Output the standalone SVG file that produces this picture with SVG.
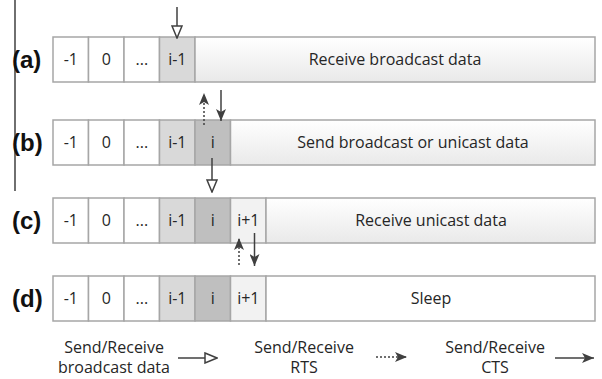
<svg xmlns="http://www.w3.org/2000/svg" width="602" height="379" viewBox="0 0 602 379">
  <style>
    .cell { stroke: #a6a6a6; stroke-width: 1.5; }
    .w { fill: #ffffff; }
    .g1 { fill: #d9d9d9; }
    .g2 { fill: #bfbfbf; }
    .g3 { fill: #f2f2f2; }
    .bar { fill: url(#barFill); }
    .t { font-family: "Open Sans", "Liberation Sans", sans-serif; font-size: 16px; fill: #262626; text-anchor: middle; }
    .lbl { font-family: "Liberation Sans", Arial, sans-serif; font-size: 24px; font-weight: bold; fill: #111; }
    .arr { stroke: #404040; stroke-width: 1.5; fill: none; }
    .dash { stroke-dasharray: 2 2; }
  </style>
  <defs>
    <linearGradient id="barFill" x1="0" y1="0" x2="0" y2="1">
      <stop offset="0" stop-color="#ffffff"/>
      <stop offset="1" stop-color="#e9e9e9"/>
    </linearGradient>
    <marker id="openHead" viewBox="0 0 14 12" refX="13" refY="6" markerWidth="14" markerHeight="12" markerUnits="userSpaceOnUse" orient="auto">
      <path d="M1,1 L13,6 L1,11 Z" fill="#fff" stroke="#404040" stroke-width="1.5"/>
    </marker>
    <marker id="solidHead" viewBox="0 0 12 10" refX="12" refY="5" markerWidth="12" markerHeight="10" markerUnits="userSpaceOnUse" orient="auto">
      <path d="M0,0 L12,5 L0,10 L3,5 Z" fill="#404040"/>
    </marker>
  </defs>

  <!-- left rule -->
  <line x1="15" y1="0" x2="15" y2="191" stroke="#222" stroke-width="1.3"/>

  <!-- row (a) -->
  <g id="row-a">
    <rect class="cell w" x="53" y="37" width="35.5" height="45"/>
    <rect class="cell w" x="88.5" y="37" width="35.5" height="45"/>
    <rect class="cell w" x="124" y="37" width="35.5" height="45"/>
    <rect class="cell g1" x="159.5" y="37" width="35.5" height="45"/>
    <rect class="cell bar" x="195" y="37" width="400" height="45"/>
    <text class="lbl" x="12" y="68">(a)</text>
    <text class="t" x="70.8" y="65">-1</text>
    <text class="t" x="106.3" y="65">0</text>
    <text class="t" x="141.8" y="65">...</text>
    <text class="t" x="177.3" y="65">i-1</text>
    <text class="t" x="395" y="65">Receive broadcast data</text>
  </g>

  <!-- row (b) -->
  <g id="row-b">
    <rect class="cell w" x="53" y="120" width="35.5" height="45"/>
    <rect class="cell w" x="88.5" y="120" width="35.5" height="45"/>
    <rect class="cell w" x="124" y="120" width="35.5" height="45"/>
    <rect class="cell g1" x="159.5" y="120" width="35.5" height="45"/>
    <rect class="cell g2" x="195" y="120" width="35.5" height="45"/>
    <rect class="cell bar" x="230.5" y="120" width="364.5" height="45"/>
    <text class="lbl" x="12" y="151">(b)</text>
    <text class="t" x="70.8" y="148">-1</text>
    <text class="t" x="106.3" y="148">0</text>
    <text class="t" x="141.8" y="148">...</text>
    <text class="t" x="177.3" y="148">i-1</text>
    <text class="t" x="212.8" y="148">i</text>
    <text class="t" x="413" y="148">Send broadcast or unicast data</text>
  </g>

  <!-- row (c) -->
  <g id="row-c">
    <rect class="cell w" x="53" y="198" width="35.5" height="45"/>
    <rect class="cell w" x="88.5" y="198" width="35.5" height="45"/>
    <rect class="cell w" x="124" y="198" width="35.5" height="45"/>
    <rect class="cell g1" x="159.5" y="198" width="35.5" height="45"/>
    <rect class="cell g2" x="195" y="198" width="35.5" height="45"/>
    <rect class="cell g3" x="230.5" y="198" width="35.5" height="45"/>
    <rect class="cell bar" x="266" y="198" width="329" height="45"/>
    <text class="lbl" x="12" y="229">(c)</text>
    <text class="t" x="70.8" y="226">-1</text>
    <text class="t" x="106.3" y="226">0</text>
    <text class="t" x="141.8" y="226">...</text>
    <text class="t" x="177.3" y="226">i-1</text>
    <text class="t" x="212.8" y="226">i</text>
    <text class="t" x="248.3" y="226">i+1</text>
    <text class="t" x="431" y="226">Receive unicast data</text>
  </g>

  <!-- row (d) -->
  <g id="row-d">
    <rect class="cell w" x="53" y="276" width="35.5" height="45"/>
    <rect class="cell w" x="88.5" y="276" width="35.5" height="45"/>
    <rect class="cell w" x="124" y="276" width="35.5" height="45"/>
    <rect class="cell g1" x="159.5" y="276" width="35.5" height="45"/>
    <rect class="cell g2" x="195" y="276" width="35.5" height="45"/>
    <rect class="cell g3" x="230.5" y="276" width="35.5" height="45"/>
    <rect class="cell w" x="266" y="276" width="329" height="45"/>
    <text class="lbl" x="12" y="307">(d)</text>
    <text class="t" x="70.8" y="304">-1</text>
    <text class="t" x="106.3" y="304">0</text>
    <text class="t" x="141.8" y="304">...</text>
    <text class="t" x="177.3" y="304">i-1</text>
    <text class="t" x="212.8" y="304">i</text>
    <text class="t" x="248.3" y="304">i+1</text>
    <text class="t" x="431" y="304">Sleep</text>
  </g>

  <!-- connectors -->
  <g id="connectors">
    <line class="arr" x1="177" y1="7" x2="177" y2="38" marker-end="url(#openHead)"/>
    <line class="arr dash" x1="204" y1="125" x2="204" y2="93" marker-end="url(#solidHead)"/>
    <line class="arr" x1="221" y1="90" x2="221" y2="121" marker-end="url(#solidHead)"/>
    <line class="arr" x1="212" y1="158" x2="212" y2="192" marker-end="url(#openHead)"/>
    <line class="arr dash" x1="239" y1="265" x2="239" y2="238" marker-end="url(#solidHead)"/>
    <line class="arr" x1="254.5" y1="233" x2="254.5" y2="266" marker-end="url(#solidHead)"/>
  </g>

  <!-- legend -->
  <g id="legend">
    <text class="t" x="114" y="353">Send/Receive</text>
    <text class="t" x="114" y="373">broadcast data</text>
    <line class="arr" x1="178" y1="358" x2="217" y2="358" marker-end="url(#openHead)"/>
    <text class="t" x="304" y="353">Send/Receive</text>
    <text class="t" x="304" y="373">RTS</text>
    <line class="arr dash" x1="376" y1="357" x2="407" y2="357" marker-end="url(#solidHead)"/>
    <text class="t" x="495" y="353">Send/Receive</text>
    <text class="t" x="495" y="373">CTS</text>
    <line class="arr" x1="555" y1="358" x2="594" y2="358" marker-end="url(#solidHead)"/>
  </g>
</svg>
